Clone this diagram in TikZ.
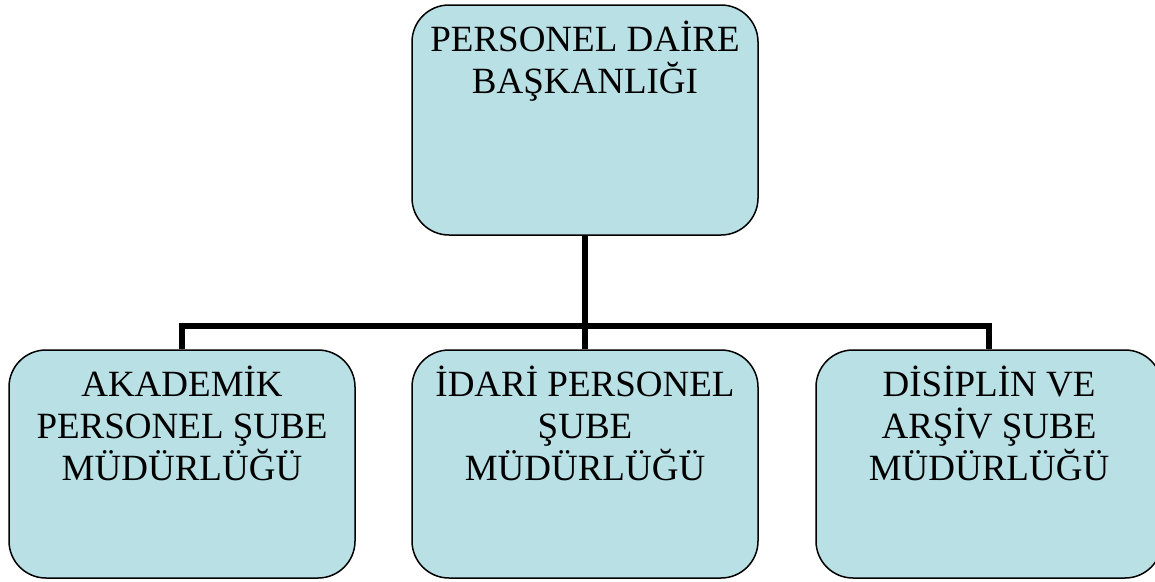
\documentclass[tikz,border=0pt]{standalone}
\usepackage{fontspec}
\setmainfont{Liberation Serif}
\definecolor{boxfill}{RGB}{185,224,228}
\begin{document}
\begin{tikzpicture}[x=1pt,y=-1pt,
  orgbox/.style={draw=black, line width=1.5pt, fill=boxfill, rounded corners=37pt,
    minimum width=346pt, minimum height=228pt, inner sep=0pt},
  boxtext/.style={anchor=north, inner sep=0pt, align=center,
    font=\fontsize{37}{42}\selectfont},
  link/.style={line width=6pt, line join=miter}]
\useasboundingbox (0,0) rectangle (1155,581);
\clip (0,0) rectangle (1155,581);
\node[orgbox, minimum height=230pt] (top) at (585,120) {};
\node[orgbox] (left) at (182,464) {};
\node[orgbox] (mid) at (585,464) {};
\node[orgbox] (right) at (989,464) {};
\coordinate (j) at (585,326);
\draw[link] (top.south) -- (mid.north);
\draw[link] (left.north) |- (j) -| (right.north);
\node[boxtext] (toptext) at ([yshift=-15pt]top.north) {\rule{0pt}{32pt}PERSONEL DAİRE\\BAŞKANLIĞI};
\node[boxtext] (lefttext) at ([yshift=-15pt]left.north) {\rule{0pt}{32pt}AKADEMİK\\PERSONEL ŞUBE\\MÜDÜRLÜĞÜ};
\node[boxtext] (midtext) at ([yshift=-15pt]mid.north) {\rule{0pt}{32pt}İDARİ PERSONEL\\ŞUBE\\MÜDÜRLÜĞÜ};
\node[boxtext] (righttext) at ([yshift=-15pt]right.north) {\rule{0pt}{32pt}DİSİPLİN VE\\ARŞİV ŞUBE\\MÜDÜRLÜĞÜ};
\end{tikzpicture}
\end{document}
